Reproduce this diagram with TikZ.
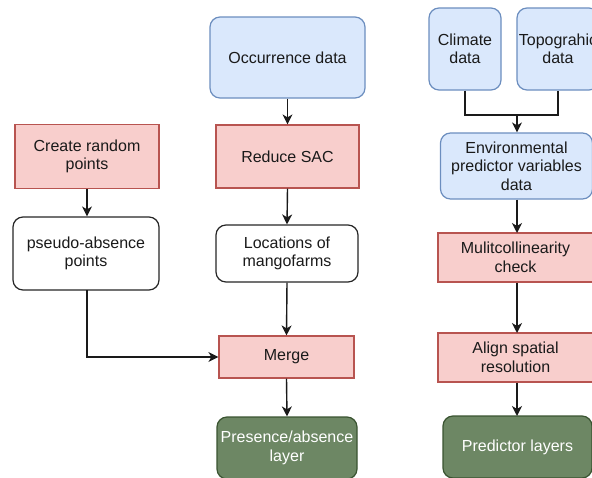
\documentclass[tikz,border=0pt]{standalone}
\usepackage{fontspec}
\setmainfont{Liberation Sans}
\usetikzlibrary{arrows.meta}
\definecolor{bluefill}{HTML}{DAE8FC}
\definecolor{blueline}{HTML}{6C8EBF}
\definecolor{pinkfill}{HTML}{F8CECC}
\definecolor{pinkline}{HTML}{B85450}
\definecolor{greenfill}{HTML}{6D8764}
\definecolor{greenline}{HTML}{3A5431}
\definecolor{txt}{HTML}{1A1A1A}
\definecolor{conn}{HTML}{1A1A1A}
\tikzset{
  box/.style={draw, line width=1.2pt, align=center, inner sep=0pt, text=txt,
    font=\fontsize{16}{18.5}\selectfont, anchor=center},
  bluebox/.style={box, fill=bluefill, draw=blueline, rounded corners=10pt},
  pinkbox/.style={box, fill=pinkfill, draw=pinkline},
  whitebox/.style={box, fill=white, draw=black!85, rounded corners=10pt},
  greenbox/.style={box, fill=greenfill, draw=greenline, rounded corners=10pt, text=white},
  arr/.style={draw=conn, line width=1.4pt, -{Stealth[length=10pt,width=10pt,inset=3pt]}},
  ln/.style={draw=conn, line width=1.4pt},
}
\begin{document}
\begin{tikzpicture}[x=1pt,y=-1pt]
\useasboundingbox (0,0) rectangle (592,477);
% middle column
\node[bluebox, minimum width=155pt, minimum height=81pt] (occ) at (287.5,57.5) {Occurrence data};
\node[pinkbox, minimum width=143pt, minimum height=63pt] (sac) at (287.5,156.5) {Reduce SAC};
\node[whitebox, minimum width=142pt, minimum height=57pt] (loc) at (287,253.5) {Locations of\\mangofarms};
\node[pinkbox, minimum width=135pt, minimum height=42pt] (merge) at (286.5,357) {Merge};
\node[greenbox, minimum width=140pt, minimum height=62pt] (pres) at (287,448) {Presence/absence\\layer};
% left column
\node[pinkbox, minimum width=144pt, minimum height=64pt] (rand) at (87,156.5) {Create random\\points};
\node[whitebox, minimum width=146pt, minimum height=73pt] (pseudo) at (86,253.5) {pseudo-absence\\points};
% right column
\node[bluebox, minimum width=72pt, minimum height=82pt] (clim) at (465,49) {Climate\\data};
\node[bluebox, minimum width=82pt, minimum height=82pt] (topo) at (558,49) {Topograhic\\data};
\node[bluebox, minimum width=152pt, minimum height=66pt] (env) at (516.5,166) {Environmental\\predictor variables\\data};
\node[pinkbox, minimum width=155pt, minimum height=49pt] (multi) at (515.5,257.5) {Mulitcollinearity\\check};
\node[pinkbox, minimum width=155pt, minimum height=49pt] (align) at (515.5,357.5) {Align spatial\\resolution};
\node[greenbox, minimum width=149pt, minimum height=62pt] (pred) at (517.5,447) {Predictor layers};
% connectors
\path[arr] (occ.south) -- (sac.north);
\path[arr] (sac.south) -- (loc.north);
\path[arr] (loc.south) -- (merge.north);
\path[arr] (merge.south) -- (pres.north);
\path[arr] (rand.south) -- (rand.south |- pseudo.north);
\coordinate (pb) at (87,290);
\path[arr] (pb) |- (merge.west);
\coordinate (j) at (517,115);
\path[ln] (clim.south) |- (j) -| (topo.south);
\path[arr] (j) -- (j |- env.north);
\path[arr] (env.south -| 517,0) -- (517,233);
\path[arr] (multi.south -| 517,0) -- (517,333);
\path[arr] (align.south -| 517,0) -- (517,416);
\end{tikzpicture}
\end{document}
